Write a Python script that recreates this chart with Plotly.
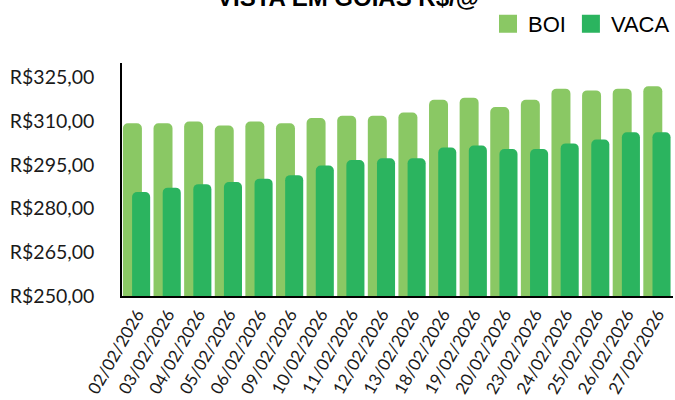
import plotly.graph_objects as go

dates = ["02/02/2026", "03/02/2026", "04/02/2026", "05/02/2026", "06/02/2026",
         "09/02/2026", "10/02/2026", "11/02/2026", "12/02/2026", "13/02/2026",
         "18/02/2026", "19/02/2026", "20/02/2026", "23/02/2026", "24/02/2026",
         "25/02/2026", "26/02/2026", "27/02/2026"]
boi = [309.3, 309.3, 309.9, 308.5, 309.9, 309.3, 311.1, 311.9, 311.9, 313.0,
       317.4, 318.1, 314.9, 317.4, 321.2, 320.6, 321.2, 322.0]
vaca = [285.7, 287.2, 288.4, 289.1, 290.3, 291.5, 294.8, 296.7, 297.3, 297.3,
        301.0, 301.7, 300.5, 300.5, 302.4, 303.7, 306.2, 306.2]
y_ticks = [250, 265, 280, 295, 310, 325]
y_labels = ["R$250,00", "R$265,00", "R$280,00", "R$295,00", "R$310,00", "R$325,00"]

C_BOI = "#8AC864"
C_VACA = "#2BB45F"

fig = go.Figure()
fig.add_trace(go.Bar(x=dates, y=boi, name="BOI", marker=dict(color=C_BOI, line=dict(width=0)),
                     offset=-0.47, width=0.62, showlegend=False))
fig.add_trace(go.Bar(x=dates, y=vaca, name="VACA", marker=dict(color=C_VACA, line=dict(width=0)),
                     offset=-0.17, width=0.59, showlegend=False))
# legend entries
fig.add_trace(go.Scatter(x=[None], y=[None], mode="markers", name="BOI",
                         marker=dict(symbol="square", size=16, color=C_BOI,
                                     line=dict(color=C_BOI, width=2))))
fig.add_trace(go.Scatter(x=[None], y=[None], mode="markers", name="VACA",
                         marker=dict(symbol="square", size=16, color=C_VACA,
                                     line=dict(color=C_VACA, width=2))))

fig.update_layout(
    width=675, height=400,
    margin=dict(l=122, r=2, t=63, b=104, pad=0),
    paper_bgcolor="white", plot_bgcolor="white",
    barmode="overlay", barcornerradius=5,
    showlegend=True,
    legend=dict(orientation="h", xref="container", yref="container",
                x=1.0, xanchor="right", y=0.94, yanchor="middle",
                font=dict(family="Liberation Sans", size=22, color="#000000"),
                bgcolor="rgba(0,0,0,0)", itemclick=False),
    annotations=[dict(text="<b>VISTA EM GOIÁS R$/@</b>", xref="paper", yref="paper",
                      x=0.41, y=1.283, xanchor="center", yanchor="middle", showarrow=False,
                      font=dict(family="Liberation Sans", size=24, color="#000000"))],
)
fig.update_xaxes(type="category", range=[-0.5, 17.5], showline=True, linecolor="#000000",
                 linewidth=1.5, ticks="", tickangle=-60, showgrid=False,
                 tickfont=dict(family="Lato", size=17, color="#1a1a1a"))
fig.update_yaxes(range=[250, 330], tickvals=y_ticks, ticktext=y_labels, showline=True,
                 linecolor="#000000", linewidth=1.5, ticks="", showgrid=False, zeroline=False,
                 ticklabelstandoff=22,
                 tickfont=dict(family="Lato", size=19.5, color="#1a1a1a"))

fig.write_html("out.html")
